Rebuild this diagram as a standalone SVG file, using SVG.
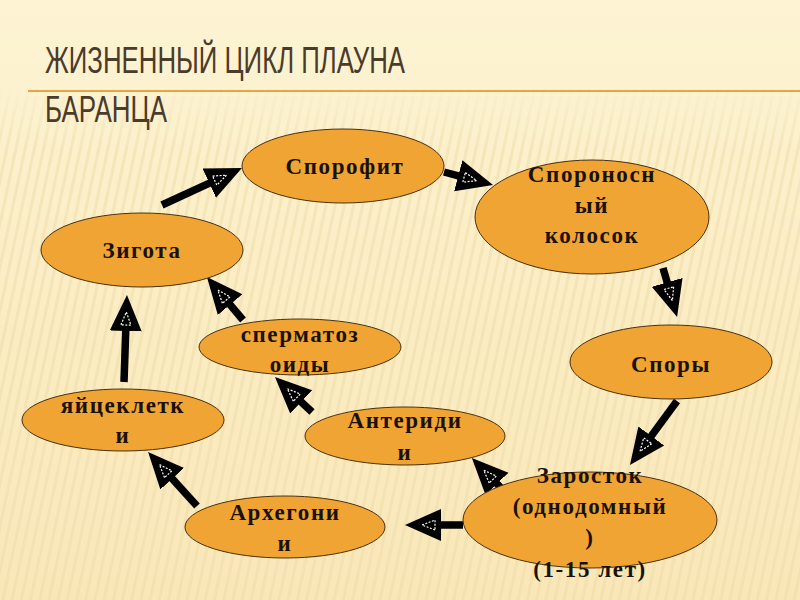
<svg xmlns="http://www.w3.org/2000/svg" width="800" height="600" viewBox="0 0 800 600">
<defs>
  <linearGradient id="bg" x1="0" y1="0" x2="0" y2="1">
    <stop offset="0" stop-color="#fdf4d4"/>
    <stop offset="0.5" stop-color="#fbedc4"/>
    <stop offset="1" stop-color="#f9e7b8"/>
  </linearGradient>
  <linearGradient id="fade" x1="0" y1="0" x2="0" y2="1">
    <stop offset="0" stop-color="#fff" stop-opacity="0"/>
    <stop offset="0.14" stop-color="#fff" stop-opacity="0"/>
    <stop offset="0.25" stop-color="#fff" stop-opacity="1"/>
    <stop offset="1" stop-color="#fff" stop-opacity="1"/>
  </linearGradient>
  <mask id="stripeMask"><rect width="800" height="600" fill="url(#fade)"/></mask>
  <pattern id="stripes" width="9" height="600" patternUnits="userSpaceOnUse" patternTransform="rotate(12)">
    <rect x="0" y="0" width="3" height="600" fill="#eedcaa" opacity="0.55"/>
  </pattern>
  <marker id="arr" markerUnits="userSpaceOnUse" markerWidth="40" markerHeight="34" viewBox="0 0 40 34" refX="2" refY="17" orient="auto">
    <path d="M0,1 L36,17 L0,33 Z" fill="#000"/>
    <path d="M6,12 L19,17 L6,22 Z" fill="none" stroke="#fff" stroke-width="1.2" stroke-dasharray="2,1.5"/>
  </marker>
  <style>
    .node ellipse { fill: #f0a434; stroke: #4a3010; stroke-width: 1; }
    .node text { font-family: "Liberation Serif", "DejaVu Serif", serif; font-weight: bold; font-size: 23px; fill: #1a1208; text-anchor: middle; letter-spacing: 1.6px; }
    .conn line { stroke: #000; stroke-width: 7.5; stroke-linecap: butt; marker-end: url(#arr); }
    .title { font-family: "Liberation Sans Narrow", "Liberation Sans", "DejaVu Sans", sans-serif; font-size: 37px; fill: #4b3b2b; }
  </style>
</defs>

<rect width="800" height="600" fill="url(#bg)"/>
<rect width="800" height="600" fill="url(#stripes)" mask="url(#stripeMask)"/>

<g id="title">
  <text class="title" x="45" y="73" textLength="360" lengthAdjust="spacingAndGlyphs">ЖИЗНЕННЫЙ ЦИКЛ ПЛАУНА</text>
  <line x1="28" y1="91" x2="800" y2="91" stroke="#e3a545" stroke-width="2"/>
  <text class="title" x="45" y="122" textLength="122" lengthAdjust="spacingAndGlyphs">БАРАНЦА</text>
</g>

<g id="connectors" class="conn">
  <line x1="162" y1="205" x2="211.1" y2="182.3"/>
  <line x1="444" y1="172" x2="460.2" y2="176.3"/>
  <line x1="663" y1="268" x2="667.7" y2="284.3"/>
  <line x1="677" y1="401" x2="650.1" y2="437.6"/>
  <line x1="503" y1="490" x2="495.6" y2="482.4"/>
  <line x1="463" y1="525" x2="439" y2="525"/>
  <line x1="197" y1="506" x2="170.9" y2="477.2"/>
  <line x1="124" y1="382" x2="125.8" y2="329"/>
  <line x1="243" y1="320" x2="228.8" y2="303.1"/>
  <line x1="312" y1="412" x2="299.7" y2="400.4"/>
</g>

<g id="sporophyte" class="node">
  <ellipse cx="343" cy="166" rx="101" ry="37"/>
  <text x="345" y="174">Спорофит</text>
</g>
<g id="spike" class="node">
  <ellipse cx="592" cy="217" rx="117" ry="57"/>
  <text x="592" y="182">Спороносн</text>
  <text x="592" y="213">ый</text>
  <text x="592" y="243">колосок</text>
</g>
<g id="spores" class="node">
  <ellipse cx="671" cy="362" rx="101" ry="37"/>
  <text x="671" y="372">Споры</text>
</g>
<g id="prothallus" class="node">
  <ellipse cx="590" cy="520" rx="127" ry="48"/>
  <text x="590" y="483">Заросток</text>
  <text x="590" y="514">(однодомный</text>
  <text x="590" y="545">)</text>
  <text x="590" y="577">(1-15 лет)</text>
</g>
<g id="antheridia" class="node">
  <ellipse cx="405" cy="436" rx="100" ry="29"/>
  <text x="405" y="428">Антериди</text>
  <text x="405" y="460">и</text>
</g>
<g id="archegonia" class="node">
  <ellipse cx="285" cy="527" rx="100" ry="31"/>
  <text x="285" y="520">Архегони</text>
  <text x="285" y="551">и</text>
</g>
<g id="eggs" class="node">
  <ellipse cx="123" cy="420" rx="101" ry="31"/>
  <text x="123" y="413">яйцеклетк</text>
  <text x="123" y="443">и</text>
</g>
<g id="spermatozoids" class="node">
  <ellipse cx="300" cy="347" rx="101" ry="28"/>
  <text x="300" y="342">сперматоз</text>
  <text x="300" y="372">оиды</text>
</g>
<g id="zygote" class="node">
  <ellipse cx="142" cy="250" rx="101" ry="37"/>
  <text x="142" y="258">Зигота</text>
</g>
</svg>
